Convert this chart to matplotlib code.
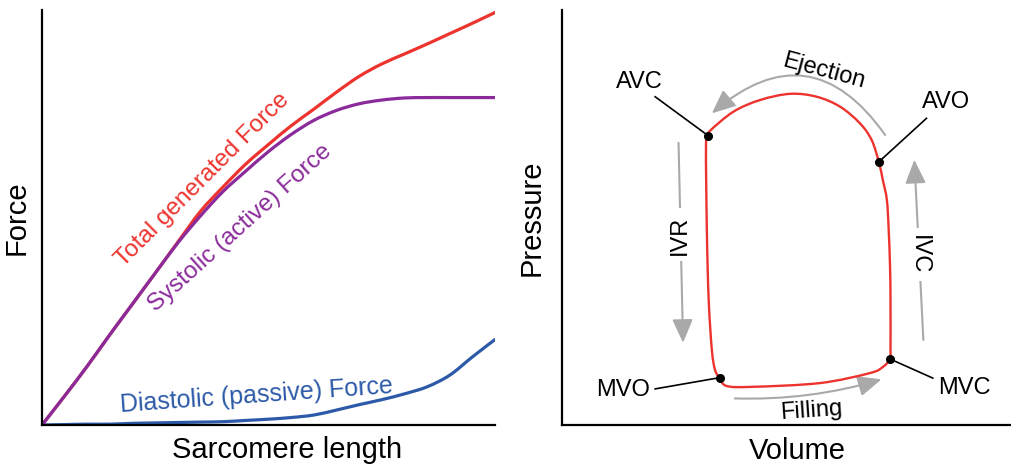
import numpy as np
import matplotlib.pyplot as plt
from matplotlib.path import Path
from matplotlib.patches import PathPatch

plt.rcParams['font.family'] = ['Liberation Sans', 'DejaVu Sans']

# Force-length relationship (arbitrary units)
sarcomere_length = [0, 5, 10, 15, 20, 25, 30, 35, 40, 45, 50,
                    55, 60, 65, 70, 75, 80, 85, 90, 95, 100]
active_force = [0, 7.0, 14.2, 21.8, 29.2, 36.6, 43.9, 50.4, 56.3, 61.2, 65.9,
                70.0, 73.4, 75.8, 77.4, 78.3, 78.8, 78.9, 78.9, 78.9, 78.9]
passive_force = [0, 0.1, 0.2, 0.2, 0.4, 0.5, 0.6, 0.7, 0.8, 1.1, 1.4,
                 1.8, 2.4, 3.6, 4.9, 6.1, 7.5, 9.2, 12.0, 16.4, 20.6]
total_force = [0, 7.0, 14.2, 21.8, 29.2, 36.6, 44.1, 51.5, 57.4, 62.9, 67.6,
               72.1, 76.1, 80.2, 84.0, 87.0, 89.4, 91.8, 94.3, 96.8, 99.4]

# Pressure-volume loop (arbitrary units), starting at mitral valve closure
pv_volume = [72.9, 73.0, 73.0, 72.9, 72.6, 72.2, 71.3, 70.4, 68.8, 66.2,
             61.8, 56.6, 50.7, 44.0, 38.1, 32.9, 32.5, 32.0, 32.2, 32.6,
             33.3, 34.0, 35.0, 36.6, 42.4, 57.3, 68.4, 71.3, 72.9]
pv_pressure = [15.9, 18.1, 30.1, 38.1, 47.0, 54.2, 59.0, 63.4, 68.7, 72.7,
               76.7, 79.1, 79.8, 78.3, 75.5, 70.9, 69.7, 67.5, 46.3, 30.1,
               18.1, 13.3, 11.4, 9.4, 9.2, 10.1, 12.5, 14.0, 15.9]
valve_events = ['MVC', 'AVO', 'AVC', 'MVO']
valve_index = [0, 7, 16, 22]

RED = '#ed332e'
PURPLE = '#8b2b9b'
BLUE = '#2d5aa8'
GRAY = '#a9a9a9'


def smooth_path(x, y, closed=False):
    """Catmull-Rom curve through the given points, as a cubic bezier Path."""
    pts = np.column_stack([x, y]).astype(float)
    n = len(pts)
    verts = [pts[0]]
    codes = [Path.MOVETO]
    for i in range(n - 1):
        p0 = pts[i - 1] if i > 0 else (pts[-2] if closed else pts[0])
        p1, p2 = pts[i], pts[i + 1]
        p3 = pts[i + 2] if i + 2 < n else (pts[1] if closed else pts[-1])
        verts += [p1 + (p2 - p0) / 6, p2 - (p3 - p1) / 6, p2]
        codes += [Path.CURVE4] * 3
    return Path(verts, codes)


def draw_curve(ax, x, y, color, lw, closed=False, zorder=2):
    patch = PathPatch(smooth_path(x, y, closed), facecolor='none',
                      edgecolor=color, lw=lw, capstyle='round',
                      joinstyle='round', zorder=zorder)
    ax.add_patch(patch)


fig = plt.figure(figsize=(10.12, 4.67), dpi=100)

# ---- left: force vs sarcomere length ----
ax1 = fig.add_axes([42 / 1012, 42 / 467, 453 / 1012, 415 / 467])
ax1.set_xlim(0, 100)
ax1.set_ylim(0, 100)
draw_curve(ax1, sarcomere_length, passive_force, BLUE, 2.3)
draw_curve(ax1, sarcomere_length, total_force, RED, 2.3)
draw_curve(ax1, sarcomere_length, active_force, PURPLE, 2.3)

ax1.text(35.5, 59.0, 'Total generated Force', color=RED, fontsize=17.5,
         rotation=45, ha='center', va='center', rotation_mode='anchor')
ax1.text(43.7, 47.4, 'Systolic (active) Force', color=PURPLE, fontsize=17.5,
         rotation=42, ha='center', va='center', rotation_mode='anchor')
ax1.text(47.4, 7.0, 'Diastolic (passive) Force', color=BLUE, fontsize=18,
         rotation=4, ha='center', va='center', rotation_mode='anchor')

ax1.set_xlabel('Sarcomere length', fontsize=21)
ax1.set_ylabel('Force', fontsize=21)
ax1.xaxis.set_label_coords(0.541, -0.026)
ax1.yaxis.set_label_coords(-0.025, 0.5)

# ---- right: pressure-volume loop ----
ax2 = fig.add_axes([562 / 1012, 42 / 467, 450 / 1012, 415 / 467])
ax2.set_xlim(0, 100)
ax2.set_ylim(0, 100)
draw_curve(ax2, pv_volume, pv_pressure, RED, 1.7, closed=True, zorder=3)

label_pos = {'MVC': (89.4, 8.8), 'AVO': (85.3, 77.9),
             'AVC': (17.1, 82.7), 'MVO': (13.6, 8.4)}
leader_start = {'MVC': (82.4, 11.3), 'AVO': (81.0, 73.9),
                'AVC': (20.7, 79.1), 'MVO': (20.7, 8.7)}
for name, i in zip(valve_events, valve_index):
    v, p = pv_volume[i], pv_pressure[i]
    lx, ly = leader_start[name]
    ax2.plot([lx, v], [ly, p], color='black', lw=1.2, zorder=4)
    ax2.plot(v, p, 'o', color='black', ms=5.5, zorder=5)
    tx, ty = label_pos[name]
    ax2.text(tx, ty, name, fontsize=17, ha='center', va='center')

arrow_style = '-|>,head_length=0.8,head_width=0.35'


def phase_arrow(start, end, rad=0.0):
    ax2.annotate('', xy=end, xytext=start, zorder=1,
                 arrowprops=dict(arrowstyle=arrow_style, color=GRAY, lw=1.5,
                                 mutation_scale=18, shrinkA=0, shrinkB=0,
                                 connectionstyle=f'arc3,rad={rad}'))


phase_arrow((71.8, 69.9), (33.3, 75.1), rad=0.55)
phase_arrow((25.9, 68.0), (26.9, 19.8))
phase_arrow((80.3, 20.5), (78.3, 63.9))
phase_arrow((38.4, 6.4), (71.0, 11.0), rad=0.08)

box = dict(facecolor='white', edgecolor='none', pad=5)
ax2.text(58.1, 85.3, 'Ejection', fontsize=17, rotation=-15,
         ha='center', va='center', rotation_mode='anchor')
ax2.text(26.2, 45.8, 'IVR', fontsize=17, rotation=90,
         ha='center', va='center', bbox=box, zorder=2)
ax2.text(79.2, 41.0, 'IVC', fontsize=17, rotation=-90,
         ha='center', va='center', bbox=box, zorder=2)
ax2.text(55.5, 3.4, 'Filling', fontsize=17, rotation=4,
         ha='center', va='center', rotation_mode='anchor')

ax2.set_xlabel('Volume', fontsize=21)
ax2.set_ylabel('Pressure', fontsize=21)
ax2.xaxis.set_label_coords(0.523, -0.028)
ax2.yaxis.set_label_coords(-0.036, 0.5)

for ax in (ax1, ax2):
    ax.spines['top'].set_visible(False)
    ax.spines['right'].set_visible(False)
    ax.spines['left'].set_linewidth(1.6)
    ax.spines['bottom'].set_linewidth(1.6)
    ax.set_xticks([])
    ax.set_yticks([])
    ax.patch.set_alpha(0)

fig.savefig('out.png', dpi=100)
